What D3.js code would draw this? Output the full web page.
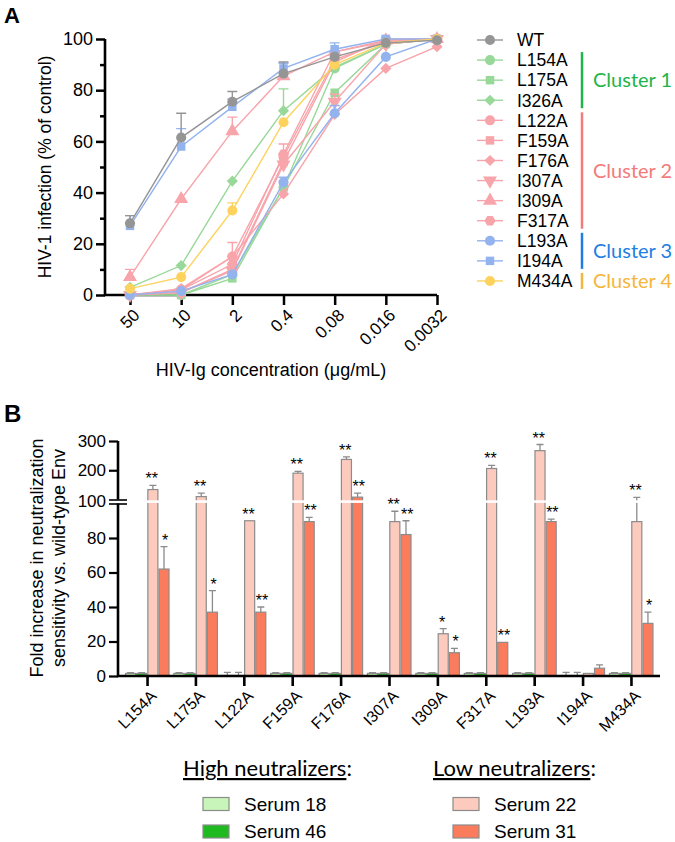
<!DOCTYPE html>
<html><head><meta charset="utf-8">
<script src="https://cdn.jsdelivr.net/npm/d3@7"></script>
<style>
body{margin:0;background:#fff}
svg{display:block}
text{font-family:"Liberation Sans",Arial,sans-serif;fill:#000}
.cal{font-family:Lato,"Open Sans",sans-serif}
</style>
</head><body><svg id="c" width="675" height="842"></svg>
<script>
// ---------- Panel A data ----------
const concLabels = ["50","10","2","0.4","0.08","0.016","0.0032"];
const seriesNames = ["WT","L154A","L175A","I326A","L122A","F159A","F176A","I307A","I309A","F317A","L193A","I194A","M434A"];
const valWT    = [28, 61.5, 75.5, 86.5, 93, 98.5, 99.5];
const valL154A = [0, 0, 8, 42, 88.5, 98, 100];
const valL175A = [0, 0, 6.5, 42, 79, 98, 100];
const valI326A = [3, 11.5, 44.5, 72, 89, 98, 100];
const valL122A = [0, 2, 15, 54, 92, 99, 100];
const valF159A = [0, 1, 10, 52, 91, 100, 100];
const valF176A = [0, 2.5, 15, 39.5, 70.5, 88.5, 97];
const valI307A = [0, 1, 9.5, 51, 75.5, 98, 100];
const valI309A = [7, 37.5, 64, 85.5, 95, 99.5, 100];
const valF317A = [0, 2, 12, 55, 95, 99, 100];
const valL193A = [0, 1.5, 8, 44, 71, 93, 100];
const valI194A = [27, 58, 73.5, 88.5, 96, 100, 100];
const valM434A = [2.5, 7, 33, 67.5, 90, 98.5, 100];
const errWT    = [3, 9.5, 4, 4.5, 0, 0, 0];
const errL154A = [0, 0, 0, 0, 0, 0, 0];
const errL175A = [0, 0, 0, 0, 0, 0, 0];
const errI326A = [0, 0, 0, 8.5, 0, 0, 0];
const errL122A = [0, 0, 5.5, 5, 0, 0, 0];
const errF159A = [0, 0, 0, 0, 0, 0, 0];
const errF176A = [0, 0, 0, 0, 0, 0, 0];
const errI307A = [0, 0, 0, 0, 3, 0, 0];
const errI309A = [3, 0, 5.5, 0, 0, 0, 0];
const errF317A = [0, 0, 0, 0, 0, 0, 0];
const errL193A = [0, 0, 1, 2, 3, 0, 0];
const errI194A = [4, 7, 3, 2, 2.5, 0.5, 0];
const errM434A = [0, 0, 3, 0, 0, 0, 0];
const clusterLabels = ["Cluster 1","Cluster 2","Cluster 3","Cluster 4"];
const yTicksA = [0,20,40,60,80,100];

// ---------- Panel B data ----------
const mutants = ["L154A","L175A","L122A","F159A","F176A","I307A","I309A","F317A","L193A","I194A","M434A"];
const seraNames = ["Serum 18","Serum 46","Serum 22","Serum 31"];
const serum18 = [1.5,1.5,0.3,1.5,1.5,1.5,1.5,1.5,1.5,0.3,1.5];
const serum18Err = [0.5,0.5,1.8,0.5,0.5,0.5,0.5,0.5,0.5,1.8,0.5];
const serum46 = [1.5,1.5,0.3,1.5,1.5,1.5,1.5,1.5,1.5,0.3,1.5];
const serum46Err = [0.5,0.5,1.8,0.5,0.5,0.5,0.5,0.5,0.5,1.8,0.5];
const serum22 = [134,110,90,190,237,89.5,24.5,206,267,1.5,89.5];
const serum22Err = [14,12,0,6,9,6,3,11,21,0,18];
const serum31 = [62,37,37,89.5,108,82,13.5,19.5,89.5,4.5,30.5];
const serum31Err = [13,12.5,3,2.5,14,8,2.5,0,1.5,2,6.5];
const stars22 = ["**","**","**","**","**","**","*","**","**","","**"];
const stars31 = ["*","*","**","**","**","**","*","**","**","","*"];
const yTicksLow = [0,20,40,60,80,100];
const yTicksHigh = [100,200,300];

// ---------- styles ----------
const cGreen="#98d898", cPink="#f8a4ab", cBlue="#93b3ee", cYellow="#fdd35e";
const svg = d3.select("#c");

const hexSym = {draw(ctx,size){const r=Math.sqrt(size/2.598);for(let i=0;i<6;i++){const a=Math.PI/3*i;const x=r*Math.cos(a),y=r*Math.sin(a);i?ctx.lineTo(x,y):ctx.moveTo(x,y);}ctx.closePath();}};
const shapes = {
  circle:{type:d3.symbolCircle,size:80,rot:0},
  square:{type:d3.symbolSquare,size:72,rot:0},
  diamond:{type:d3.symbolSquare,size:62,rot:45},
  tri:{type:d3.symbolTriangle,size:85,rot:0},
  tridown:{type:d3.symbolTriangle,size:85,rot:180},
  hex:{type:hexSym,size:80,rot:0}
};
const series = [
  {name:"L154A",v:valL154A,e:errL154A,c:cGreen,s:"circle"},
  {name:"L175A",v:valL175A,e:errL175A,c:cGreen,s:"square"},
  {name:"I326A",v:valI326A,e:errI326A,c:cGreen,s:"diamond"},
  {name:"L122A",v:valL122A,e:errL122A,c:cPink,s:"circle"},
  {name:"F159A",v:valF159A,e:errF159A,c:cPink,s:"square"},
  {name:"F176A",v:valF176A,e:errF176A,c:cPink,s:"diamond"},
  {name:"I307A",v:valI307A,e:errI307A,c:cPink,s:"tridown"},
  {name:"I309A",v:valI309A,e:errI309A,c:cPink,s:"tri"},
  {name:"F317A",v:valF317A,e:errF317A,c:cPink,s:"hex"},
  {name:"L193A",v:valL193A,e:errL193A,c:cBlue,s:"circle"},
  {name:"I194A",v:valI194A,e:errI194A,c:cBlue,s:"square"},
  {name:"M434A",v:valM434A,e:errM434A,c:cYellow,s:"circle"},
  {name:"WT",v:valWT,e:errWT,c:"#959595",s:"circle"}
];
const symPath = k => d3.symbol().type(shapes[k].type).size(shapes[k].size)();

// ================= PANEL A =================
svg.append("text").attr("x",4).attr("y",23).attr("font-size",22).attr("font-weight","bold").text("A");
const xA = d3.scalePoint().domain(concLabels).range([130,437]);
const yA = d3.scaleLinear().domain([0,100]).range([295,39]);
const gA = svg.append("g");

const yAx = gA.append("g").attr("transform","translate(105,0)")
  .call(d3.axisLeft(yA).tickValues(yTicksA).tickSize(9).tickPadding(3));
yAx.append("g").call(d3.axisLeft(yA).tickValues([10,30,50,70,90]).tickSize(5).tickFormat(""));
yAx.selectAll(".domain").remove();
yAx.selectAll("line").attr("stroke","#000").attr("stroke-width",2.5);
yAx.selectAll("text").attr("font-size",18).attr("font-family","Liberation Sans, Arial, sans-serif");
const xAx = gA.append("g").attr("transform","translate(0,295)")
  .call(d3.axisBottom(xA).tickSize(10));
xAx.select(".domain").remove();
xAx.selectAll("line").attr("stroke","#000").attr("stroke-width",2.5);
xAx.selectAll("text").attr("font-size",17).attr("font-family","Liberation Sans, Arial, sans-serif")
  .attr("text-anchor","end").attr("x",0).attr("y",0).attr("dy","0.35em")
  .attr("transform","translate(6,17) rotate(-45)");
gA.append("path").attr("d",`M105,${yA(100)}V295H437`).attr("fill","none").attr("stroke","#000").attr("stroke-width",2.6);

gA.append("text").attr("x",271).attr("y",376).attr("text-anchor","middle").attr("font-size",18).text("HIV-Ig concentration (μg/mL)");
gA.append("text").attr("transform","translate(51,167) rotate(-90)").attr("text-anchor","middle").attr("font-size",17.5).text("HIV-1 infection (% of control)");

const lineA = d3.line().x((d,i)=>xA(concLabels[i])).y(d=>yA(d));
series.forEach(s=>{
  const g = gA.append("g");
  g.append("path").attr("d",lineA(s.v)).attr("fill","none").attr("stroke",s.c).attr("stroke-width",1.4);
  s.v.forEach((v,i)=>{
    if(s.e[i]>0){
      const x=xA(concLabels[i]), y1=yA(v), y2=yA(Math.min(v+s.e[i],103));
      g.append("path").attr("d",`M${x},${y1}V${y2}M${x-5},${y2}H${x+5}`).attr("stroke",s.c).attr("stroke-width",1.4).attr("fill","none");
    }
  });
  g.selectAll("path.m").data(s.v).join("path").attr("class","m")
    .attr("d",symPath(s.s)).attr("fill",s.c)
    .attr("transform",(d,i)=>`translate(${xA(concLabels[i])},${yA(d)}) rotate(${shapes[s.s].rot})`);
});

// legend A
const legOrder = seriesNames.map(n=>series.find(s=>s.name===n));
const legY = i => 40 + i*20.08;
const gL = svg.append("g");
legOrder.forEach((s,i)=>{
  const y=legY(i);
  gL.append("line").attr("x1",477).attr("x2",503).attr("y1",y).attr("y2",y).attr("stroke",s.c).attr("stroke-width",1.4);
  gL.append("path").attr("d",symPath(s.s)).attr("fill",s.c).attr("transform",`translate(490,${y}) rotate(${shapes[s.s].rot})`);
  gL.append("text").attr("x",517).attr("y",y).attr("dy","0.36em").attr("font-size",17.5).text(s.name);
});
const clusters = [
  {label:clusterLabels[0],from:1,to:3,c:"#1db54a"},
  {label:clusterLabels[1],from:4,to:9,c:"#f37b7b"},
  {label:clusterLabels[2],from:10,to:11,c:"#1d7fe3"},
  {label:clusterLabels[3],from:12,to:12,c:"#f4b63d"}
];
clusters.forEach(cl=>{
  const y1=legY(cl.from)-8, y2=legY(cl.to)+8;
  gL.append("line").attr("x1",582).attr("x2",582).attr("y1",y1).attr("y2",y2).attr("stroke",cl.c).attr("stroke-width",2.5);
  gL.append("text").attr("class","cal").attr("x",593).attr("y",(y1+y2)/2).attr("dy","0.36em")
    .attr("font-size",20).style("fill",cl.c).text(cl.label);
});

// ================= PANEL B =================
svg.append("text").attr("x",4).attr("y",422).attr("font-size",24).attr("font-weight","bold").text("B");
const xB = d3.scalePoint().domain(mutants).range([118,660]).padding(0.6);
const xSub = d3.scaleBand().domain(seraNames).range([-21.5,22]).paddingInner(0.1);
const yLow = d3.scaleLinear().domain([0,100]).range([676,503.5]);
const yHigh = d3.scaleLinear().domain([100,300]).range([499.5,441]);
const yB = v => v<=100 ? yLow(v) : yHigh(v);
const seraFill = ["#c8f5b9","#1fba1f","#fdcabe","#fa7c5d"];
const seraVals = [serum18,serum46,serum22,serum31];
const seraErr = [serum18Err,serum46Err,serum22Err,serum31Err];
const seraStars = [null,null,stars22,stars31];
const gB = svg.append("g");
const gStars = [];

seraNames.forEach((sn,k)=>{
  mutants.forEach((m,i)=>{
    const v=seraVals[k][i], e=seraErr[k][i];
    const x=xB(m)+xSub(sn), w=xSub.bandwidth();
    const cx=x+w/2;
    if(e>0){
      const yt=yB(v+e);
      gB.append("path").attr("d",`M${cx},${yB(v)}V${yt}M${cx-3.5},${yt}H${cx+3.5}`).attr("stroke","#8c8c8c").attr("stroke-width",1.3).attr("fill","none");
    }
    gB.append("rect").attr("x",x).attr("y",yB(v)).attr("width",w).attr("height",yLow(0)-yB(v))
      .attr("fill",seraFill[k]).attr("stroke","#8c8c8c").attr("stroke-width",1.2);
    const st = seraStars[k] ? seraStars[k][i] : "";
    if(st) gStars.push({x:cx+(k===2?-1.2:1.2),y:yB(v+e)-1,t:st});
  });
});
gB.append("rect").attr("x",121).attr("y",500.3).attr("width",540).attr("height",2.6).attr("fill","#fff");
gB.selectAll("text.star").data(gStars).join("text").attr("class","star")
  .attr("x",d=>d.x).attr("y",d=>d.y).attr("text-anchor","middle").attr("font-size",16).text(d=>d.t);

const yLowAx = gB.append("g").attr("transform","translate(118,0)")
  .call(d3.axisLeft(yLow).tickValues(yTicksLow).tickSize(9).tickPadding(3));
const yHighAx = gB.append("g").attr("transform","translate(118,0)")
  .call(d3.axisLeft(yHigh).tickValues(yTicksHigh).tickSize(9).tickPadding(3).tickFormat(d=>d===100?"":d));
[yLowAx,yHighAx].forEach(a=>{
  a.select(".domain").remove();
  a.selectAll("line").attr("stroke","#000").attr("stroke-width",2.2);
  a.selectAll(".tick").filter(d=>d===100).select("line").attr("x2",-9).attr("x1",9).attr("stroke-width",1.6);
  a.selectAll("text").attr("font-size",17).attr("font-family","Liberation Sans, Arial, sans-serif");
});
yLowAx.selectAll(".tick").filter(d=>d===100).select("text").attr("y",-2);
gB.append("line").attr("x1",118).attr("x2",118).attr("y1",yLow(0)).attr("y2",yLow(100)).attr("stroke","#000").attr("stroke-width",2.6);
gB.append("line").attr("x1",118).attr("x2",118).attr("y1",yHigh(100)).attr("y2",yHigh(300)).attr("stroke","#000").attr("stroke-width",2.6);
const xBAx = gB.append("g").attr("transform","translate(0,676)").call(d3.axisBottom(xB).tickSize(10));
xBAx.select(".domain").remove();
xBAx.selectAll("line").attr("stroke","#000").attr("stroke-width",2.6);
xBAx.selectAll("text").attr("font-size",16).attr("font-family","Liberation Sans, Arial, sans-serif")
  .attr("text-anchor","end").attr("x",0).attr("y",0).attr("dy","0.35em")
  .attr("transform","translate(6,17) rotate(-45)");
gB.append("line").attr("x1",117).attr("x2",660).attr("y1",676).attr("y2",676).attr("stroke","#000").attr("stroke-width",2.6);

const yTitle = gB.append("text").attr("transform","translate(54,558) rotate(-90)").attr("text-anchor","middle").attr("font-size",18);
yTitle.append("tspan").attr("x",0).attr("dy","-0.6em").text("Fold increase in neutralization");
yTitle.append("tspan").attr("x",0).attr("dy","1.2em").text("sensitivity vs. wild-type Env");

// legend B
const legB = [
  {head:"High neutralizers", x:183, items:[0,1]},
  {head:"Low neutralizers", x:433, items:[2,3]}
];
legB.forEach(L=>{
  const t = svg.append("text").attr("class","cal").attr("x",L.x).attr("y",776).attr("font-size",22);
  t.append("tspan").style("text-decoration","underline").text(L.head);
  t.append("tspan").text(":");
  L.items.forEach((k,j)=>{
    const yc = 804 + j*27.5;
    svg.append("rect").attr("x",L.x+20).attr("y",yc-6.5).attr("width",26).attr("height",13)
      .attr("fill",seraFill[k]).attr("stroke","#8c8c8c").attr("stroke-width",1.2);
    svg.append("text").attr("x",L.x+61).attr("y",yc).attr("dy","0.36em").attr("font-size",19).text(seraNames[k]);
  });
});
</script></body></html>
